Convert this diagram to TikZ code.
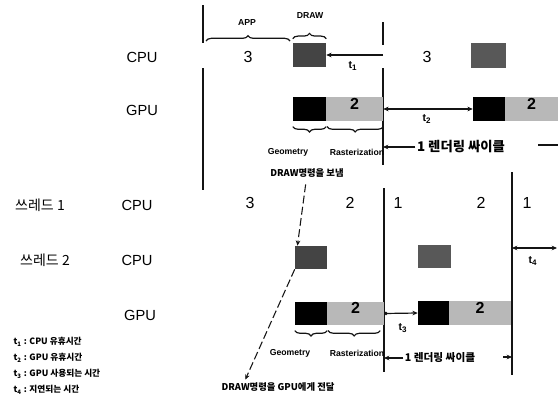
\documentclass[tikz,border=0pt]{standalone}
\usepackage{fontspec}
\setmainfont{Liberation Sans}
\newfontfamily\krfont{Noto Sans CJK KR}
\usetikzlibrary{positioning,fit,arrows.meta,decorations.pathreplacing}
\definecolor{ink}{RGB}{20,20,20}
\definecolor{cCpu}{RGB}{68,68,68}
\definecolor{cCpuB}{RGB}{88,88,88}
\definecolor{cRas}{RGB}{184,184,184}
\newcommand{\tsub}[1]{t\textsubscript{#1}}

\begin{document}
\begin{tikzpicture}[
  x=0.75pt, y=-0.75pt,
  >={Stealth[length=4pt,width=3.5pt]},
  row/.style={font=\fontsize{11}{13}\selectfont, inner sep=1pt},
  thr/.style={font=\krfont\fontsize{10.5}{12}\selectfont, inner sep=1pt},
  num/.style={font=\fontsize{12}{14}\selectfont, inner sep=1pt},
  tag/.style={font=\bfseries\fontsize{6.5}{8}\selectfont, inner sep=1pt},
  tlab/.style={font=\bfseries\fontsize{8}{9}\selectfont, inner sep=1pt},
  ktag/.style={font=\krfont\bfseries\fontsize{7}{8}\selectfont, inner sep=1pt},
  leg/.style={font=\krfont\bfseries\fontsize{6.5}{8}\selectfont, inner sep=1pt, anchor=west},
  cyc/.style={font=\krfont\bfseries\fontsize{10}{12}\selectfont, inner sep=1pt},
  drk/.style={fill=cCpu, inner sep=0pt},
  drkb/.style={fill=cCpuB, inner sep=0pt},
  blk/.style={fill=black, inner sep=0pt},
  lgt/.style={fill=cRas, inner sep=0pt, font=\bfseries\fontsize{12}{14}\selectfont},
  vln/.style={line width=1.4pt, ink},
  brc/.style={decorate, decoration={brace, amplitude=4pt}, line width=0.9pt, ink},
  dsh/.style={dash pattern=on 6pt off 2.5pt, line width=0.8pt, ink},
  tar/.style={line width=0.9pt, ink},
]
\useasboundingbox (0,0) rectangle (558,408);

% ---- row labels ----
\node[row] (cpuT) at (142,57) {CPU};
\node[row] (gpuT) at (142,110) {GPU};
\node[thr] (th1) at (40,205) {쓰레드 1};
\node[row] (cpu1) at (137,205) {CPU};
\node[thr] (th2) at (45,260) {쓰레드 2};
\node[row] (cpu2) at (137,260) {CPU};
\node[row] (gpuB) at (140,315) {GPU};

% ---- one thread: frame lines ----
\coordinate (vA1) at (203,5);   \coordinate (vA2) at (203,43);
\coordinate (vA3) at (203,68);  \coordinate (vA4) at (203,190);
\coordinate (vB1) at (383,22);  \coordinate (vB2) at (383,45);
\coordinate (vB3) at (383,68);  \coordinate (vB4) at (383,165);
\draw[vln] (vA1) -- (vA2);
\draw[vln] (vA3) -- (vA4);
\draw[vln] (vB1) -- (vB2);
\draw[vln] (vB3) -- (vB4);

% ---- one thread: blocks ----
\node[drk, fit={(293,43) (326,67)}] (drawA) {};
\node[drkb, fit={(471,43) (506,68)}] (drawB) {};
\node[blk, fit={(293,97) (326,121)}] (geoA) {};
\node[lgt, fit={(326,97) (383,121)}] (rasA) {2};
\node[blk, fit={(473,97) (505,121)}] (geoB) {};
\node[lgt, fit={(505,97) (558,121)}] (rasB) {2};

\node[num] (n3a) at (248,57) {3};
\node[num] (n3b) at (427,57) {3};

% braces
\coordinate (appL) at (206,41); \coordinate (appR) at (290,41);
\draw[brc] (appL) -- (appR);
\node[tag] (app) at (247,23) {APP};
\draw[brc] ([yshift=3pt]drawA.north west) -- ([yshift=3pt]drawA.north east);
\node[tag] (drw) at (310,16) {DRAW};
\draw[brc] ([yshift=-4pt]geoA.south east) -- ([yshift=-4pt]geoA.south west);
\draw[brc] ([yshift=-4pt]rasA.south east) -- ([yshift=-4pt,xshift=1pt]rasA.south west);
\node[tag] (geoLA) at (288,152) {Geometry};
\node[tag] (rasLA) at (357,152) {Rasterization};

% idle times
\draw[tar,->] (drawA.east -| vB2) -- (drawA.east);
\node[tlab] (t1) at (353,66) {\tsub{1}};
\draw[tar,<->] (rasA.east) -- (geoB.west);
\node[tlab] (t2) at (427,119) {\tsub{2}};

% cycle
\node[cyc] (cycA) at (461,147) {1 렌더링 싸이클};
\draw[tar,->] (cycA.west) -- (cycA.west -| vB4);
\coordinate (cycAr) at (538,145); \coordinate (cycAe) at (558,145);
\draw[tar] (cycAr) -- (cycAe);

% ---- two threads ----
\node[ktag] (sendT) at (307,173) {DRAW명령을 보냄};

\node[num] (r1a) at (250,203) {3};
\node[num] (r1b) at (350,203) {2};
\node[num] (r1c) at (398,203) {1};
\node[num] (r1d) at (481,203) {2};
\node[num] (r1e) at (527,203) {1};

\coordinate (vC1) at (384,188); \coordinate (vC2) at (384,372);
\coordinate (vD1) at (512,172); \coordinate (vD2) at (512,375);
\draw[vln] (vC1) -- (vC2);
\draw[vln] (vD1) -- (vD2);

\node[drk, fit={(295,246) (327,269)}] (drawC) {};
\node[drkb, fit={(418,245) (451,268)}] (drawD) {};
\node[blk, fit={(295,302) (327,325)}] (geoC) {};
\node[lgt, fit={(327,302) (384,325)}] (rasC) {2};
\node[blk, fit={(418,301) (449,325)}] (geoD) {};
\node[lgt, fit={(449,301) (511,325)}] (rasD) {2};

\draw[brc] ([yshift=-4pt]geoC.south east) -- ([yshift=-4pt]geoC.south west);
\draw[brc] ([yshift=-4pt,xshift=-3pt]rasC.south east) -- ([yshift=-4pt,xshift=1pt]rasC.south west);
\node[tag] (geoLC) at (290,353) {Geometry};
\node[tag] (rasLC) at (357,353) {Rasterization};

% delay + gpu idle
\coordinate (t4e) at (557,248);
\draw[tar,<->] (vD1 |- t4e) -- (t4e);
\node[tlab] (t4) at (533,261) {\tsub{4}};
\draw[tar,{Circle[length=2.5pt]}->] (rasC.east) -- (geoD.west);
\node[tlab] (t3) at (403,328) {\tsub{3}};

\node[cyc, font=\krfont\bfseries\fontsize{8}{10}\selectfont] (cycB) at (440,358) {1 렌더링 싸이클};
\draw[tar,->] (cycB.west) -- (cycB.west -| vC2);
\coordinate (cycBr) at (503,357);
\draw[tar,->] (cycBr) -- (cycBr -| vD2);

% draw command path
\node[ktag] (passT) at (278,387) {DRAW명령을 GPU에게 전달};
\draw[dsh,->] ([xshift=-1pt,yshift=-4pt]sendT.south) -- ([xshift=2pt]drawC.north west);
\draw[dsh,->] (drawC.south west) -- ([xshift=19pt,yshift=1pt]passT.north west);

% ---- legend ----
\node[leg] (lg1) at (12,342) {\tsub{1} : CPU 유휴시간};
\node[leg] (lg2) at (12,358) {\tsub{2} : GPU 유휴시간};
\node[leg] (lg3) at (12,374) {\tsub{3} : GPU 사용되는 시간};
\node[leg] (lg4) at (12,390) {\tsub{4} : 지연되는 시간};

\end{tikzpicture}
\end{document}
